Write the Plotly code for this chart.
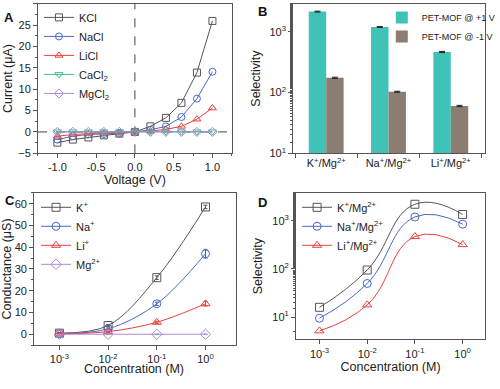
import plotly.graph_objects as go

# ---------------- data ----------------
voltage = [-1.0, -0.8, -0.6, -0.4, -0.2, 0.0, 0.2, 0.4, 0.6, 0.8, 1.0]
i_kcl = [-2.5, -1.8, -1.3, -0.8, -0.4, 0.0, 1.3, 3.3, 6.8, 13.9, 26.0]
i_nacl = [-1.8, -1.0, -0.6, -0.5, -0.3, 0.0, 0.5, 1.3, 3.5, 7.8, 14.1]
i_licl = [-1.0, -0.6, -0.4, -0.3, -0.2, 0.0, 0.2, 0.6, 1.3, 3.0, 5.6]
i_cacl2 = [0.05, 0.05, 0.05, 0.05, 0.0, 0.0, 0.0, 0.05, 0.05, 0.05, 0.05]
i_mgcl2 = [0.0, 0.0, 0.0, 0.0, 0.0, 0.0, 0.0, 0.0, 0.0, 0.0, 0.0]

sel_categories = ["K<sup>+</sup>/Mg<sup>2+</sup>", "Na<sup>+</sup>/Mg<sup>2+</sup>", "Li<sup>+</sup>/Mg<sup>2+</sup>"]
sel_pos1v = [2150, 1200, 465]
sel_pos1v_err = [40, 20, 10]
sel_neg1v = [175, 103, 60]
sel_neg1v_err = [4, 2, 1.5]

conc = [0.001, 0.01, 0.1, 1.0]
g_k = [0.5, 4.0, 26.0, 58.5]
g_k_err = [0.3, 0.5, 0.8, 0.8]
g_na = [0.3, 2.5, 14.0, 37.0]
g_na_err = [0.2, 0.4, 0.8, 2.0]
g_li = [0.2, 1.2, 5.5, 14.0]
g_li_err = [0.1, 0.3, 0.5, 1.0]
g_mg = [0.0, 0.0, 0.0, 0.0]

s_k = [16, 95, 2200, 1350]
s_na = [9.5, 50, 1200, 850]
s_li = [5.2, 18, 470, 320]

log_tickvals = [0.001, 0.01, 0.1, 1]
log_ticktext = ["10<sup>-3</sup>", "10<sup>-2</sup>", "10<sup>-1</sup>", "10<sup>0</sup>"]

# ---------------- styles ----------------
C_K = "#555555"
C_NA = "#4a68c4"
C_LI = "#e8403c"
C_CA = "#3fba86"
C_MG = "#a88bd6"
C_TEAL = "#3fc2b8"
C_BROWN = "#8c7d72"
FONT = "Liberation Sans, Arial, sans-serif"

fig = go.Figure()

# Panel A
for name, ys, col, sym in [
    ("KCl", i_kcl, C_K, "square-open"),
    ("NaCl", i_nacl, C_NA, "circle-open"),
    ("LiCl", i_licl, C_LI, "triangle-up-open"),
    ("CaCl<sub>2</sub>", i_cacl2, C_CA, "triangle-down-open"),
    ("MgCl<sub>2</sub>", i_mgcl2, C_MG, "diamond-open"),
]:
    fig.add_trace(go.Scatter(x=voltage, y=ys, name=name, mode="lines+markers",
                             line=dict(color=col, width=1),
                             marker=dict(symbol=sym, size=7, color=col, line=dict(width=1, color=col)),
                             xaxis="x", yaxis="y", legend="legend"))

# Panel B
fig.add_trace(go.Bar(x=sel_categories, y=sel_pos1v, name="PET-MOF @ +1 V",
                     marker=dict(color=C_TEAL, line=dict(width=0)),
                     error_y=dict(type="data", array=sel_pos1v_err, color="#222", thickness=1, width=3),
                     xaxis="x2", yaxis="y2", legend="legend2"))
fig.add_trace(go.Bar(x=sel_categories, y=sel_neg1v, name="PET-MOF @ -1 V",
                     marker=dict(color=C_BROWN, line=dict(width=0)),
                     error_y=dict(type="data", array=sel_neg1v_err, color="#222", thickness=1, width=3),
                     xaxis="x2", yaxis="y2", legend="legend2"))

# Panel C
for name, ys, err, col, sym in [
    ("K<sup>+</sup>", g_k, g_k_err, C_K, "square-open"),
    ("Na<sup>+</sup>", g_na, g_na_err, C_NA, "circle-open"),
    ("Li<sup>+</sup>", g_li, g_li_err, C_LI, "triangle-up-open"),
    ("Mg<sup>2+</sup>", g_mg, [0, 0, 0, 0], C_MG, "diamond-open"),
]:
    fig.add_trace(go.Scatter(x=conc, y=ys, name=name, mode="lines+markers",
                             line=dict(color=col, width=1, shape="spline", smoothing=1.0),
                             marker=dict(symbol=sym, size=8, color=col, line=dict(width=1, color=col)),
                             error_y=dict(type="data", array=err, color=col, thickness=1, width=2),
                             xaxis="x3", yaxis="y3", legend="legend3"))

# Panel D
for name, ys, col, sym in [
    ("K<sup>+</sup>/Mg<sup>2+</sup>", s_k, C_K, "square-open"),
    ("Na<sup>+</sup>/Mg<sup>2+</sup>", s_na, C_NA, "circle-open"),
    ("Li<sup>+</sup>/Mg<sup>2+</sup>", s_li, C_LI, "triangle-up-open"),
]:
    fig.add_trace(go.Scatter(x=conc, y=ys, name=name, mode="lines+markers",
                             line=dict(color=col, width=1, shape="spline", smoothing=1.3),
                             marker=dict(symbol=sym, size=8, color=col, line=dict(width=1, color=col)),
                             xaxis="x4", yaxis="y4", legend="legend4"))

axis_common = dict(showline=True, linecolor="#555", linewidth=1, mirror=True, ticks="outside",
                   ticklen=4, tickcolor="#555", showgrid=False, zeroline=False,
                   tickfont=dict(size=11, color="#222", family=FONT))
title_font = dict(size=12.5, color="#222", family=FONT)

H = 389.0
W = 500.0
def xd(a, b):
    return [a / W, b / W]
def yd(top, bottom):
    return [(H - bottom) / H, (H - top) / H]

fig.update_layout(
    autosize=True, margin=dict(l=0, r=0, t=0, b=0),
    paper_bgcolor="white", plot_bgcolor="white",
    font=dict(family=FONT, size=11, color="#222"),
    barmode="group", bargap=0.44, bargroupgap=0,
    xaxis=dict(domain=xd(39, 238), anchor="y", range=[-1.25, 1.25], tickvals=[-1, -0.5, 0, 0.5, 1],
               ticktext=["-1.0", "-0.5", "0.0", "0.5", "1.0"],
               minor=dict(ticks="outside", ticklen=2, dtick=0.25, tickcolor="#555"),
               title=dict(text="Voltage (V)", font=title_font, standoff=1), **axis_common),
    yaxis=dict(domain=yd(4, 159), anchor="x", range=[-5, 30], dtick=5,
               minor=dict(ticks="outside", ticklen=2, dtick=2.5, tickcolor="#555"),
               title=dict(text="Current (μA)", font=title_font, standoff=2), **axis_common),
    xaxis2=dict(domain=xd(301, 498), anchor="y2", range=[-0.53, 2.55], tickson="boundaries",
                title=dict(text=""), **axis_common),
    yaxis2=dict(domain=yd(4, 159), anchor="x2", type="log", range=[1, 3.46],
                tickvals=[10, 100, 1000], ticktext=["10<sup>1</sup>", "10<sup>2</sup>", "10<sup>3</sup>"],
                minor=dict(ticks="outside", ticklen=2, tickcolor="#555"),
                title=dict(text="Selectivity", font=title_font, standoff=6), **axis_common),
    xaxis3=dict(domain=xd(35, 242), anchor="y3", type="log", range=[-3.52, 0.62],
                tickvals=log_tickvals, ticktext=log_ticktext,
                title=dict(text=""), **axis_common),
    yaxis3=dict(domain=yd(200, 358), anchor="x3", range=[-5, 65], dtick=10,
                minor=dict(ticks="outside", ticklen=2, dtick=5, tickcolor="#555"),
                title=dict(text="Conductance (μS)", font=title_font, standoff=2), **axis_common),
    xaxis4=dict(domain=xd(304, 498), anchor="y4", type="log", range=[-3.49, 0.47],
                tickvals=log_tickvals, ticktext=log_ticktext,
                title=dict(text="Concentration (M)", font=title_font, standoff=0), **axis_common),
    yaxis4=dict(domain=yd(200, 352), anchor="x4", type="log", range=[0.54, 3.58],
                tickvals=[10, 100, 1000], ticktext=["10<sup>1</sup>", "10<sup>2</sup>", "10<sup>3</sup>"],
                minor=dict(ticks="outside", ticklen=2, tickcolor="#555"),
                title=dict(text="Selectivity", font=title_font, standoff=6), **axis_common),
    legend=dict(x=40 / W, y=1 - 3 / H, xanchor="left", yanchor="top", bgcolor="rgba(0,0,0,0)",
                font=dict(size=11, family=FONT), tracegroupgap=0, itemwidth=30),
    legend2=dict(x=392 / W, y=1 - 3 / H, xanchor="left", yanchor="top", bgcolor="rgba(0,0,0,0)",
                 font=dict(size=9, family=FONT), itemwidth=30),
    legend3=dict(x=37 / W, y=1 - 200 / H, xanchor="left", yanchor="top", bgcolor="rgba(0,0,0,0)",
                 font=dict(size=11, family=FONT), itemwidth=30),
    legend4=dict(x=305 / W, y=1 - 200 / H, xanchor="left", yanchor="top", bgcolor="rgba(0,0,0,0)",
                 font=dict(size=11, family=FONT), itemwidth=30),
    shapes=[
        dict(type="line", xref="x", yref="y domain", x0=0, x1=0, y0=0, y1=1,
             line=dict(color="#444", width=1, dash="dash"), layer="below"),
        dict(type="line", xref="x domain", yref="y", x0=0, x1=1, y0=0, y1=0,
             line=dict(color="#444", width=1, dash="dash"), layer="below"),
    ],
    annotations=[
        dict(text="<b>A</b>", x=2 / W, y=1 - 8 / H, xref="paper", yref="paper", xanchor="left", yanchor="top",
             showarrow=False, font=dict(size=13, color="#111", family=FONT)),
        dict(text="<b>B</b>", x=263 / W, y=1 - 2 / H, xref="paper", yref="paper", xanchor="left", yanchor="top",
             showarrow=False, font=dict(size=13, color="#111", family=FONT)),
        dict(text="<b>C</b>", x=3 / W, y=1 - 198 / H, xref="paper", yref="paper", xanchor="left", yanchor="top",
             showarrow=False, font=dict(size=13, color="#111", family=FONT)),
        dict(text="<b>D</b>", x=263 / W, y=1 - 200 / H, xref="paper", yref="paper", xanchor="left", yanchor="top",
             showarrow=False, font=dict(size=13, color="#111", family=FONT)),
        dict(text="Concentration (M)", x=138 / W, y=1 - 383 / H, xref="paper", yref="paper",
             xanchor="center", yanchor="middle", showarrow=False, font=title_font),
    ],
)

fig.write_html(
    "out.html",
    default_width="100vw",
    default_height="100vh",
    config={"displayModeBar": False, "staticPlot": True, "responsive": True},
    post_script=("document.documentElement.style.margin='0';document.documentElement.style.padding='0';"
                 "document.documentElement.style.overflow='hidden';"
                 "document.body.style.margin='0';document.body.style.padding='0';"
                 "document.body.style.overflow='hidden';"),
)
